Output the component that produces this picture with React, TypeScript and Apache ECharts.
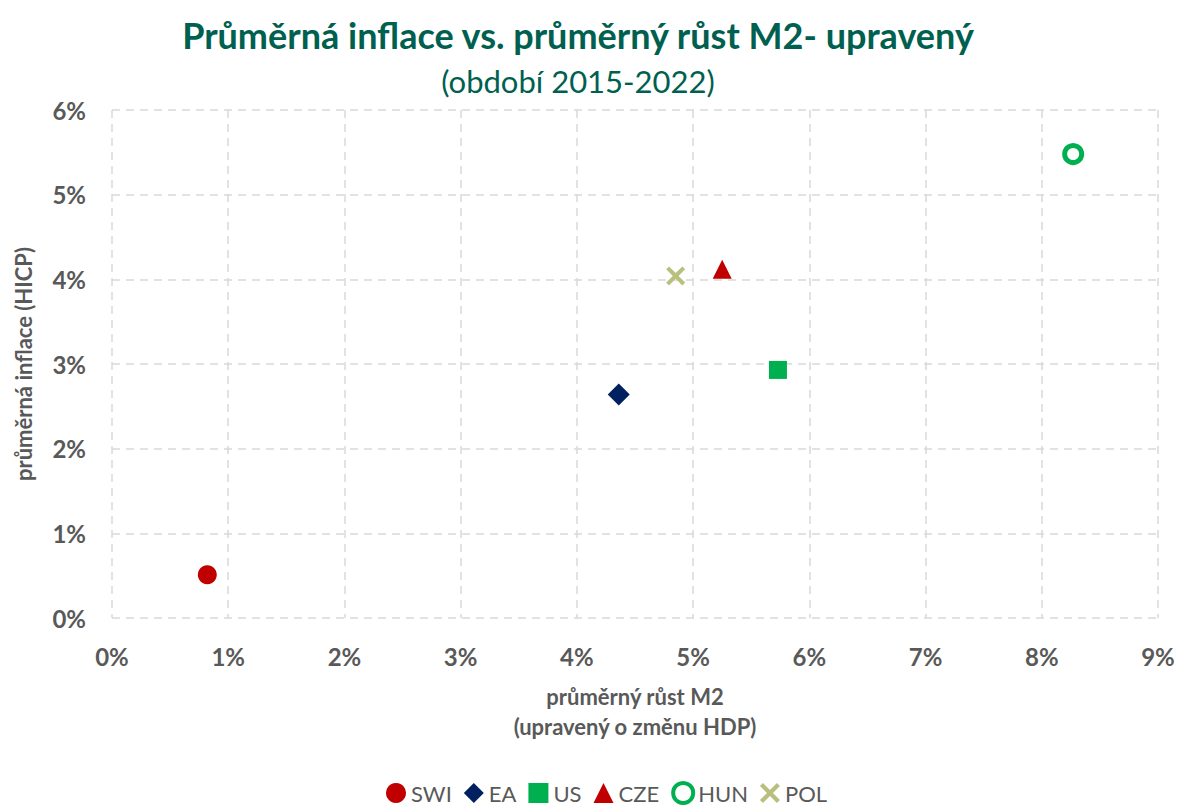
import React, { useEffect, useRef } from "react";
import * as echarts from "echarts";

const countries = ["SWI", "EA", "US", "CZE", "HUN", "POL"];
const m2Growth = [0.82, 4.36, 5.73, 5.25, 8.27, 4.85];
const inflation = [0.51, 2.64, 2.93, 4.12, 5.48, 4.04];
const xTicks = [0, 1, 2, 3, 4, 5, 6, 7, 8, 9];
const yTicks = [0, 1, 2, 3, 4, 5, 6];

const crossPath =
  "path://M0,3 L3,0 L10,7 L17,0 L20,3 L13,10 L20,17 L17,20 L10,13 L3,20 L0,17 L7,10 Z";

const styles: Record<string, any> = {
  SWI: { symbol: "circle", size: 19, color: "#C00000" },
  EA: { symbol: "diamond", size: 22, color: "#002060" },
  US: { symbol: "rect", size: 18, color: "#00B050" },
  CZE: { symbol: "triangle", size: 19, color: "#C00000" },
  HUN: { symbol: "circle", size: 17, color: "#00B050", hollow: true },
  POL: { symbol: crossPath, size: 19, color: "#B9C07E" },
};

export default function App() {
  const ref = useRef<HTMLDivElement>(null);
  useEffect(() => {
    document.body.style.margin = "0";
    const chart = echarts.init(ref.current!, null, { renderer: "svg" });
    const font = "Lato, 'Open Sans', sans-serif";
    chart.setOption({
      animation: false,
      backgroundColor: "#ffffff",
      textStyle: { fontFamily: font },
      title: [
        {
          text: "Průměrná inflace vs. průměrný růst M2- upravený",
          left: 573,
          textAlign: "center",
          top: 12,
          textStyle: { fontFamily: font, fontSize: 36, fontWeight: "bold", color: "#006050" },
        },
        {
          text: "(období 2015-2022)",
          left: 573,
          textAlign: "center",
          top: 60,
          textStyle: { fontFamily: font, fontSize: 31, fontWeight: "normal", color: "#006050" },
        },
      ],
      grid: { left: 112, right: 20, top: 110, bottom: 190, containLabel: false },
      legend: {
        top: 781,
        left: 386,
        padding: 0,
        itemGap: 12,
        itemWidth: 20,
        itemHeight: 20,
        textStyle: { fontFamily: font, fontSize: 22, color: "#595959", padding: [0, 0, 0, 0] },
        data: countries.map((c) => ({
          name: c,
          icon: styles[c].symbol,
          itemStyle: styles[c].hollow
            ? { color: "#ffffff", borderColor: styles[c].color, borderWidth: 4 }
            : undefined,
        })),
      },
      xAxis: {
        type: "value",
        min: xTicks[0],
        max: xTicks[xTicks.length - 1],
        interval: 1,
        name: "průměrný růst M2\n(upravený o změnu HDP)",
        nameLocation: "middle",
        nameGap: 63,
        nameTextStyle: { fontFamily: font, fontSize: 22, fontWeight: "bold", color: "#595959", lineHeight: 30 },
        axisLine: { show: false },
        axisTick: { show: false },
        axisLabel: {
          formatter: "{value}%",
          fontFamily: font,
          fontSize: 24,
          fontWeight: "bold",
          color: "#595959",
          margin: 26,
        },
        splitLine: { show: true, lineStyle: { color: "#D9D9D9", type: [8, 6], width: 1.5 } },
      },
      yAxis: {
        type: "value",
        min: yTicks[0],
        max: yTicks[yTicks.length - 1],
        interval: 1,
        name: "průměrná inflace (HICP)",
        nameLocation: "middle",
        nameGap: 78,
        nameTextStyle: { fontFamily: font, fontSize: 22, fontWeight: "bold", color: "#595959" },
        axisLine: { show: false },
        axisTick: { show: false },
        axisLabel: {
          formatter: "{value}%",
          fontFamily: font,
          fontSize: 24,
          fontWeight: "bold",
          color: "#595959",
          margin: 26,
        },
        splitLine: { show: true, lineStyle: { color: "#D9D9D9", type: [8, 6], width: 1.5 } },
      },
      series: countries.map((c, i) => {
        const s = styles[c];
        return {
          name: c,
          type: "scatter",
          symbol: s.symbol,
          symbolSize: s.size,
          data: [[m2Growth[i], inflation[i]]],
          itemStyle: s.hollow
            ? { color: "#ffffff", borderColor: s.color, borderWidth: 5, opacity: 1 }
            : { color: s.color, opacity: 1 },
        };
      }),
    });
    return () => chart.dispose();
  }, []);
  return <div ref={ref} style={{ width: 1178, height: 808 }} />;
}
